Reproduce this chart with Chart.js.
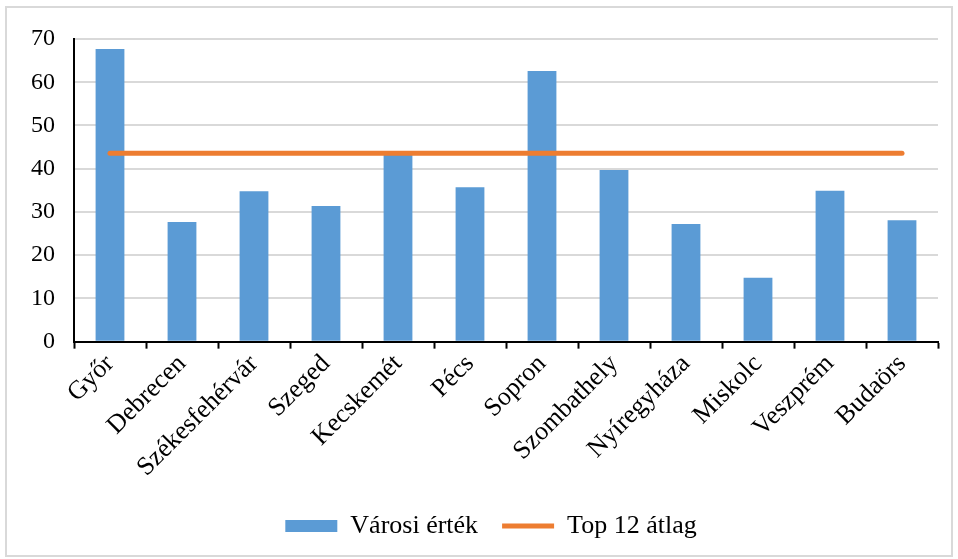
<!DOCTYPE html>
<html>
<head>
    <meta charset="utf-8">
    <script src="https://cdn.jsdelivr.net/npm/chart.js@4/dist/chart.umd.min.js"></script>
    <style>
        body { margin: 0; background: #fff; }
        #wrap { width: 958px; height: 559px; }
    </style>
</head>
<body>
    <div id="wrap"><canvas id="plot"></canvas></div>
    <script>
        var cities = ['Győr', 'Debrecen', 'Székesfehérvár', 'Szeged', 'Kecskemét', 'Pécs',
            'Sopron', 'Szombathely', 'Nyíregyháza', 'Miskolc', 'Veszprém', 'Budaörs']
        var cityValues = [67.7, 27.7, 34.8, 31.4, 43.3, 35.7, 62.6, 39.7, 27.2, 14.8, 34.9, 28.1]
        var top12Avg = [43.6, 43.6, 43.6, 43.6, 43.6, 43.6, 43.6, 43.6, 43.6, 43.6, 43.6, 43.6]
        var yTicks = [0, 10, 20, 30, 40, 50, 60, 70]

        var serif = "'Liberation Serif', 'Times New Roman', serif"

        // keret a diagram körül
        var frame = {
            id: 'frame',
            beforeDraw: function (chart) {
                var ctx = chart.ctx
                ctx.save()
                ctx.fillStyle = '#fff'
                ctx.fillRect(0, 0, chart.width, chart.height)
                ctx.strokeStyle = '#d9d9d9'
                ctx.lineWidth = 2
                ctx.strokeRect(6, 7, 946, 549)
                ctx.restore()
            }
        }

        // jelmagyarázat kicsit jobbra és lejjebb
        var legendShift = {
            id: 'legendShift',
            afterLayout: function (chart) {
                if (chart.legend) {
                    chart.legend.left += 16
                    chart.legend.right += 16
                    chart.legend.top += 6
                    chart.legend.bottom += 6
                }
            }
        }

        new Chart(document.getElementById('plot'), {
            data: {
                labels: cities,
                datasets: [{
                    type: 'line',
                    label: 'Top 12 átlag',
                    data: top12Avg,
                    borderColor: '#ed7d31',
                    backgroundColor: '#ed7d31',
                    borderWidth: 5,
                    borderCapStyle: 'round',
                    pointRadius: 0,
                    pointStyle: 'line',
                    order: 1
                }, {
                    type: 'bar',
                    label: 'Városi érték',
                    data: cityValues,
                    backgroundColor: '#5b9bd5',
                    borderWidth: 0,
                    barPercentage: 0.8,
                    categoryPercentage: 0.5,
                    pointStyle: 'rect',
                    order: 2
                }]
            },
            options: {
                responsive: true,
                maintainAspectRatio: false,
                animation: false,
                layout: { padding: { left: 12, right: 20, top: 39, bottom: 16 } },
                plugins: {
                    tooltip: { enabled: false },
                    legend: {
                        position: 'bottom',
                        reverse: true,
                        labels: {
                            usePointStyle: true,
                            pointStyleWidth: 52,
                            boxWidth: 52,
                            boxHeight: 12,
                            padding: 24,
                            color: '#000',
                            font: { family: serif, size: 26 }
                        }
                    }
                },
                scales: {
                    x: {
                        offset: true,
                        grid: {
                            offset: true,
                            drawOnChartArea: false,
                            drawTicks: true,
                            tickLength: 7,
                            tickWidth: 2,
                            color: '#000'
                        },
                        border: { display: true, color: '#000', width: 2 },
                        ticks: {
                            color: '#000',
                            maxRotation: 45,
                            minRotation: 45,
                            padding: 0,
                            font: { family: serif, size: 26 }
                        }
                    },
                    y: {
                        min: 0,
                        max: 70,
                        afterBuildTicks: function (axis) {
                            axis.ticks = yTicks.map(function (v) { return { value: v } })
                        },
                        grid: {
                            color: '#d9d9d9',
                            lineWidth: 2,
                            drawTicks: false
                        },
                        border: { display: true, color: '#000', width: 2 },
                        ticks: {
                            color: '#000',
                            padding: 19,
                            font: { family: serif, size: 24 }
                        }
                    }
                }
            },
            plugins: [frame, legendShift]
        })
    </script>
</body>
</html>
